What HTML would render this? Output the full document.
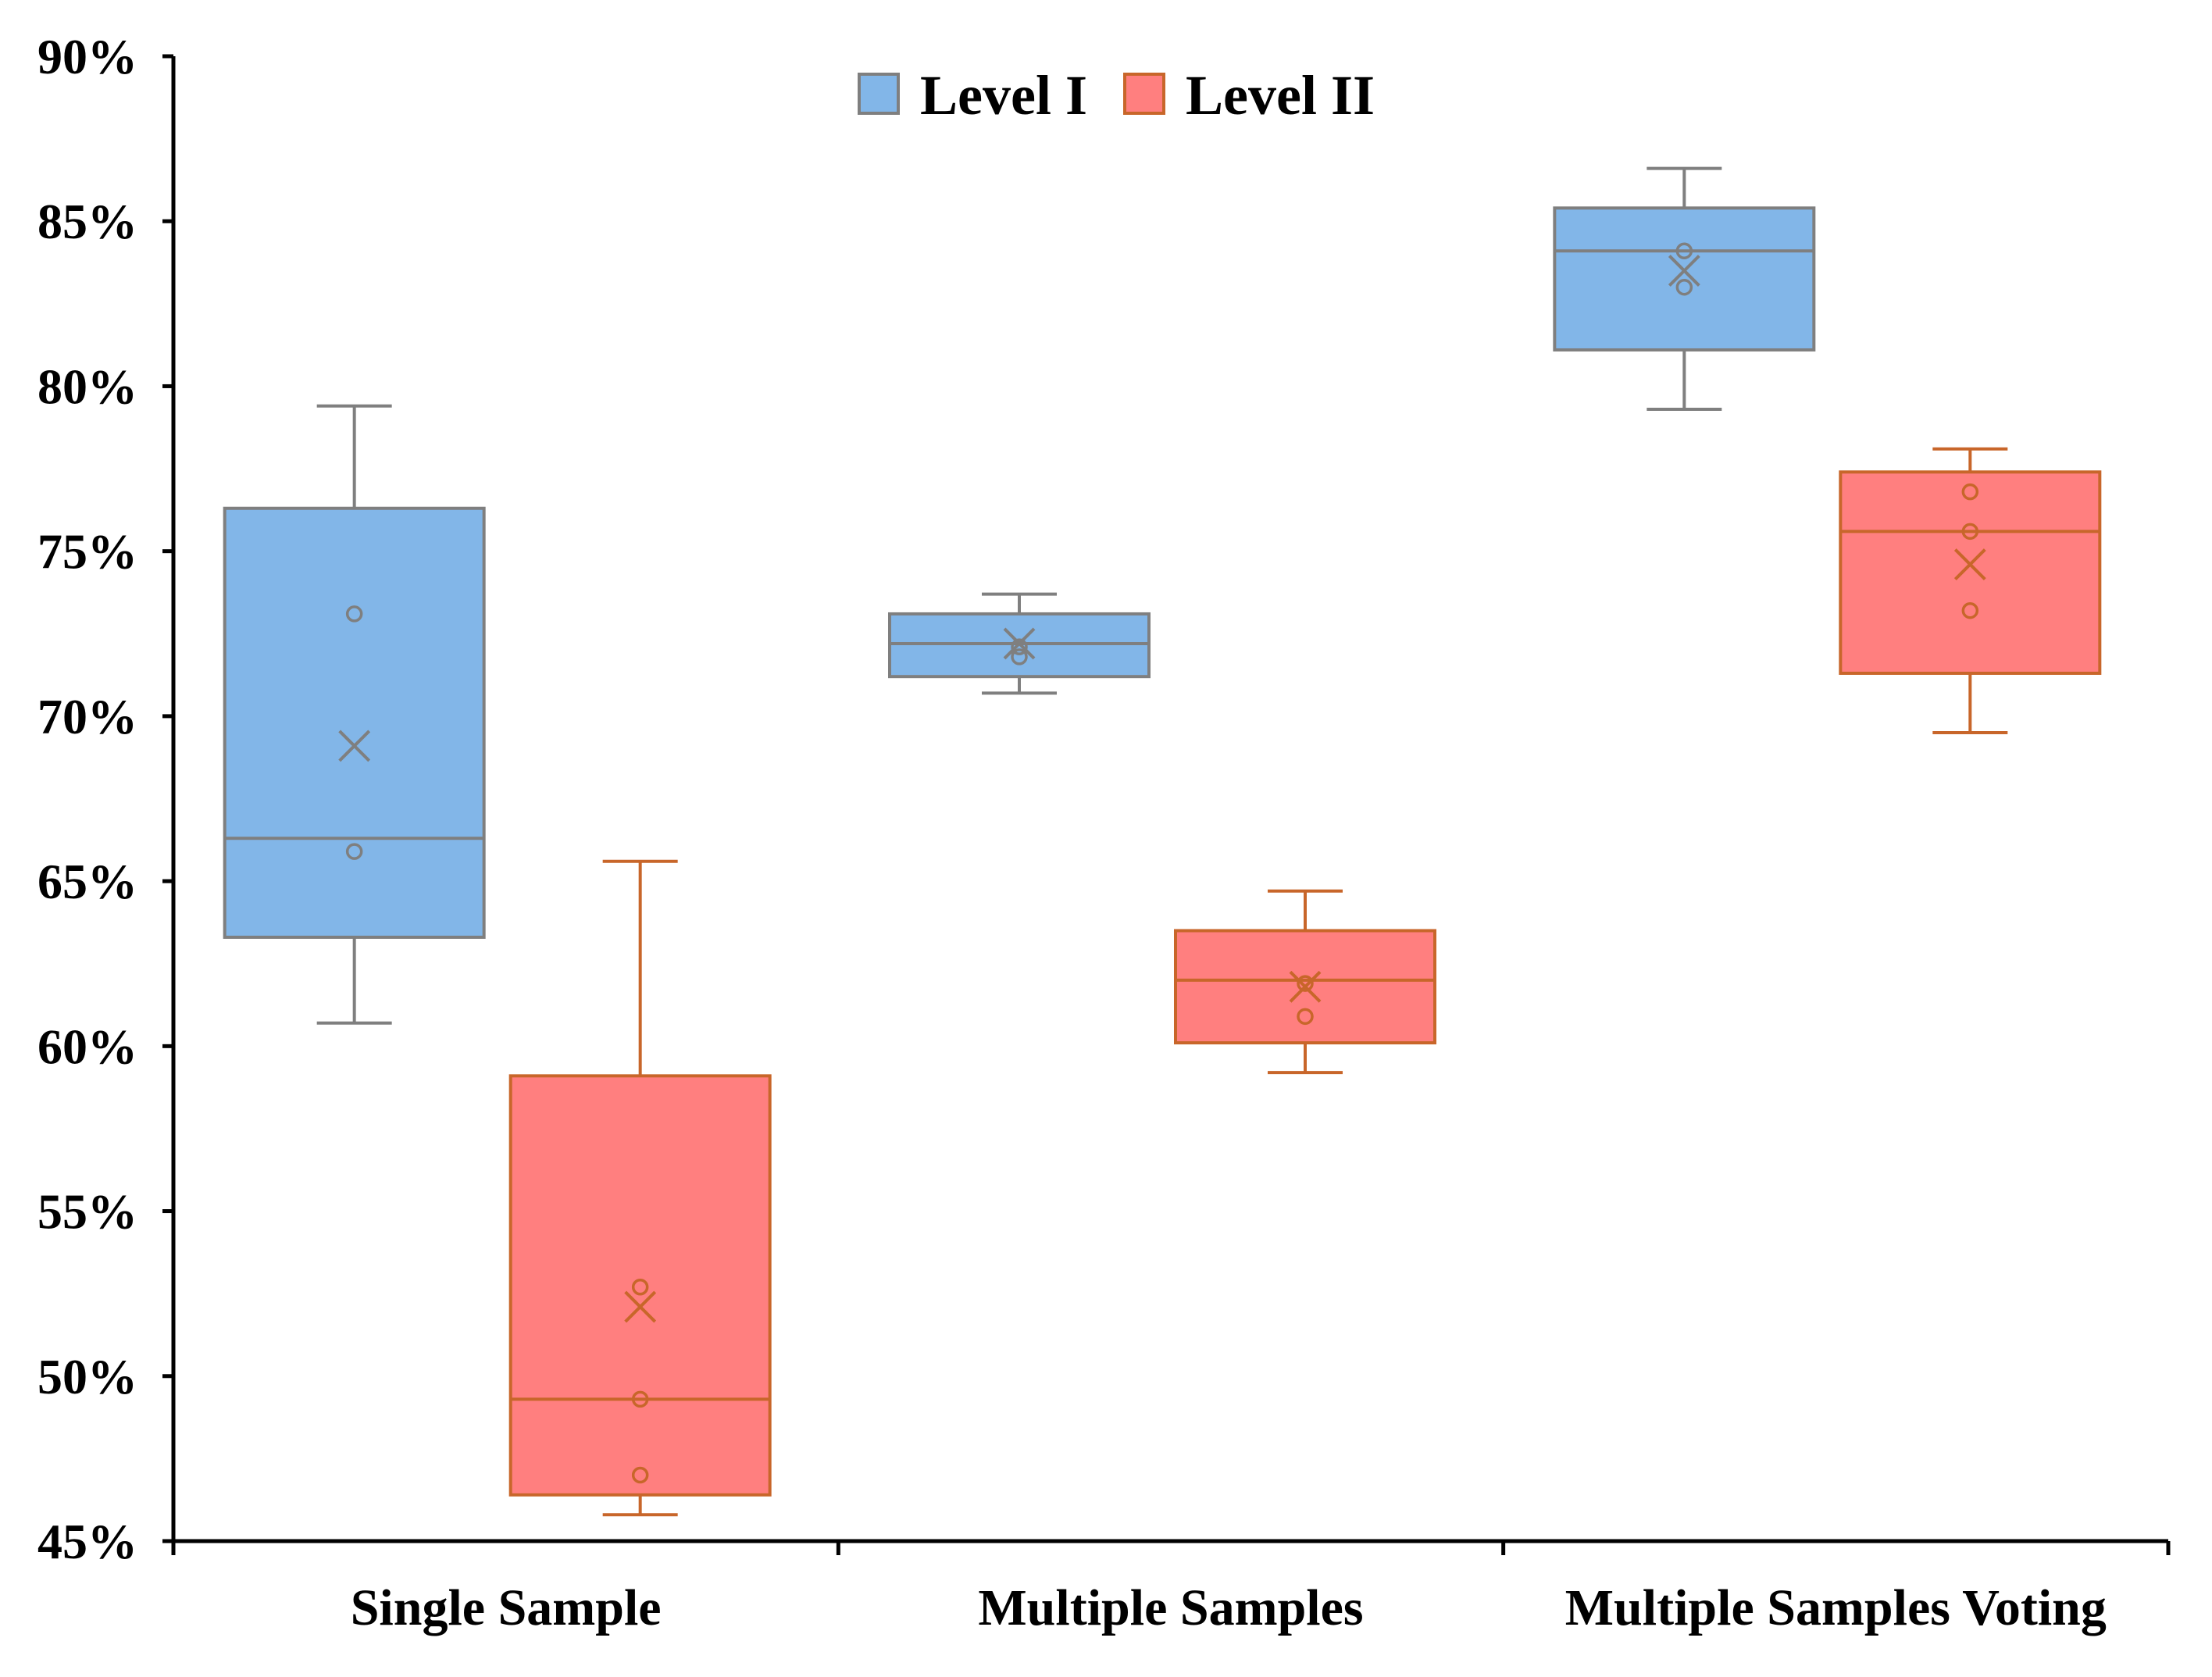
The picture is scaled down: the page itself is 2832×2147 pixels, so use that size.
<!DOCTYPE html>
<html><head><meta charset="utf-8"><style>
html,body{margin:0;padding:0;background:#fff;}
svg{display:block;font-family:"Liberation Serif",serif;font-weight:bold;}
</style></head><body>
<svg id="chart" width="2832" height="2147" viewBox="0 0 2832 2147" xmlns="http://www.w3.org/2000/svg">
<g id="axes"></g>
<g id="boxes"></g>
<g id="legend">
  <rect x="1100" y="95" width="50" height="50" fill="#82B6E8" stroke="#7f7f7f" stroke-width="4"/>
  <text x="1178" y="146" font-size="72">Level I</text>
  <rect x="1440" y="95" width="50" height="50" fill="#FF7F7F" stroke="#C8662A" stroke-width="4"/>
  <text x="1518" y="146" font-size="72">Level II</text>
</g>
</svg>
<script>
const categories = ["Single Sample","Multiple Samples","Multiple Samples Voting"];
const yTicks = [45,50,55,60,65,70,75,80,85,90];
const seriesNames = ["Level I","Level II"];
// [whiskerLow, Q1, median, Q3, whiskerHigh, mean]
const level1Stats = [[60.7,63.3,66.3,76.3,79.4,69.1],[70.7,71.2,72.2,73.1,73.7,72.2],[79.3,81.1,84.1,85.4,86.6,83.5]];
const level2Stats = [[45.8,46.4,49.3,59.1,65.6,52.1],[59.2,60.1,62.0,63.5,64.7,61.8],[69.5,71.3,75.6,77.4,78.1,74.6]];
const level1Points = [[73.1,65.9],[71.8,72.1],[84.1,83.0]];
const level2Points = [[52.7,49.3,47.0],[61.9,60.9],[76.8,75.6,73.2]];

const NS="http://www.w3.org/2000/svg";
const X0=222,X1=2776,Y90=72,Y45=1973;
const y=v=>Y45-(v-45)*(Y45-Y90)/45;
const catW=(X1-X0)/categories.length;
const cx=i=>X0+catW*(i+0.5);
function mk(tag,attrs,parent){const e=document.createElementNS(NS,tag);for(const k in attrs)e.setAttribute(k,attrs[k]);parent.appendChild(e);return e;}
const axes=document.getElementById('axes'),boxes=document.getElementById('boxes');
let a=mk('line',{x1:X0,y1:Y90,x2:X0,y2:Y45+2,stroke:'#000','stroke-width':5},axes);


a=mk('line',{x1:X0-2,y1:Y45,x2:X1,y2:Y45,stroke:'#000','stroke-width':5},axes);


yTicks.forEach(t=>{
  const tk=mk('line',{x1:X0-14,y1:y(t),x2:X0,y2:y(t),stroke:'#000','stroke-width':5},axes);
  
  
  const tx=mk('text',{x:176,y:y(t)+22,'text-anchor':'end','font-size':64},axes);
  tx.textContent=t+'%';
  
  
});
for(let i=0;i<=categories.length;i++){
  const tk=mk('line',{x1:X0+catW*i,y1:Y45,x2:X0+catW*i,y2:Y45+18,stroke:'#000','stroke-width':5},axes);
  
  
}
categories.forEach((c,i)=>{
  const tx=mk('text',{x:cx(i),y:2080,'text-anchor':'middle','font-size':66},axes);
  tx.textContent=c;
  
  
});
const styles=[{fill:'#82B6E8',stroke:'#7f7f7f',off:-194},{fill:'#FF7F7F',stroke:'#C8662A',off:172}];
const BW=332,CAP=48;
[level1Stats,level2Stats].forEach((stats,s)=>{
  const pts=s===0?level1Points:level2Points, st=styles[s];
  stats.forEach((d,i)=>{
    const c=cx(i)+st.off;
    const g=mk('g',{},boxes);
    
    
    const sw=4;
    mk('line',{x1:c,y1:y(d[4]),x2:c,y2:y(d[3]),stroke:st.stroke,'stroke-width':sw},g);
    mk('line',{x1:c,y1:y(d[0]),x2:c,y2:y(d[1]),stroke:st.stroke,'stroke-width':sw},g);
    mk('line',{x1:c-CAP,y1:y(d[4]),x2:c+CAP,y2:y(d[4]),stroke:st.stroke,'stroke-width':sw},g);
    mk('line',{x1:c-CAP,y1:y(d[0]),x2:c+CAP,y2:y(d[0]),stroke:st.stroke,'stroke-width':sw},g);
    mk('rect',{x:c-BW/2,y:y(d[3]),width:BW,height:y(d[1])-y(d[3]),fill:st.fill,stroke:st.stroke,'stroke-width':sw},g);
    mk('line',{x1:c-BW/2,y1:y(d[2]),x2:c+BW/2,y2:y(d[2]),stroke:st.stroke,'stroke-width':sw},g);
    pts[i].forEach(p=>mk('circle',{cx:c,cy:y(p),r:9,fill:'none',stroke:st.stroke,'stroke-width':3.5},g));
    const m=y(d[5]),r=19;
    mk('path',{d:`M${c-r},${m-r}L${c+r},${m+r}M${c-r},${m+r}L${c+r},${m-r}`,stroke:st.stroke,'stroke-width':4,fill:'none'},g);
  });
});
</script>
</body></html>
